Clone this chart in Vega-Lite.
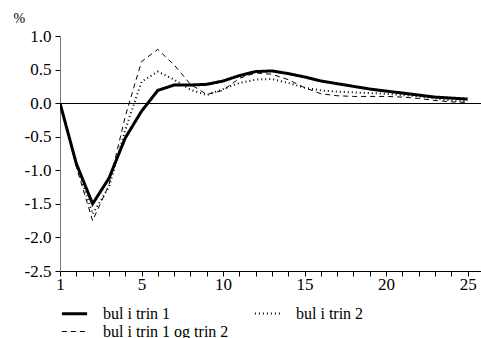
{
  "$schema": "https://vega.github.io/schema/vega-lite/v6.json",
  "autosize": "none",
  "width": 421,
  "height": 235,
  "padding": {"left": 60, "top": 36, "right": 0, "bottom": 67},
  "background": "white",
  "config": {
    "view": {"stroke": null},
    "font": "Liberation Serif, Times New Roman, DejaVu Serif, serif",
    "legend": {"labelFont": "Liberation Serif, Times New Roman, DejaVu Serif, serif"},
    "axis": {"labelFont": "Liberation Serif, Times New Roman, DejaVu Serif, serif", "titleFont": "Liberation Serif, Times New Roman, DejaVu Serif, serif", "labelColor": "black", "tickColor": "black", "grid": false}
  },
  "data": {"values": [
      {"periode": 0, "serie": "bul i trin 1", "v": 0},
      {"periode": 1, "serie": "bul i trin 1", "v": -0.9},
      {"periode": 2, "serie": "bul i trin 1", "v": -1.5},
      {"periode": 3, "serie": "bul i trin 1", "v": -1.12},
      {"periode": 4, "serie": "bul i trin 1", "v": -0.52},
      {"periode": 5, "serie": "bul i trin 1", "v": -0.12},
      {"periode": 6, "serie": "bul i trin 1", "v": 0.19},
      {"periode": 7, "serie": "bul i trin 1", "v": 0.27},
      {"periode": 8, "serie": "bul i trin 1", "v": 0.27},
      {"periode": 9, "serie": "bul i trin 1", "v": 0.28},
      {"periode": 10, "serie": "bul i trin 1", "v": 0.33},
      {"periode": 11, "serie": "bul i trin 1", "v": 0.41},
      {"periode": 12, "serie": "bul i trin 1", "v": 0.47},
      {"periode": 13, "serie": "bul i trin 1", "v": 0.48},
      {"periode": 14, "serie": "bul i trin 1", "v": 0.44},
      {"periode": 15, "serie": "bul i trin 1", "v": 0.39},
      {"periode": 16, "serie": "bul i trin 1", "v": 0.33},
      {"periode": 17, "serie": "bul i trin 1", "v": 0.29},
      {"periode": 18, "serie": "bul i trin 1", "v": 0.25},
      {"periode": 19, "serie": "bul i trin 1", "v": 0.21},
      {"periode": 20, "serie": "bul i trin 1", "v": 0.18},
      {"periode": 21, "serie": "bul i trin 1", "v": 0.15},
      {"periode": 22, "serie": "bul i trin 1", "v": 0.12},
      {"periode": 23, "serie": "bul i trin 1", "v": 0.09},
      {"periode": 24, "serie": "bul i trin 1", "v": 0.075},
      {"periode": 25, "serie": "bul i trin 1", "v": 0.06},
      {"periode": 0, "serie": "bul i trin 2", "v": 0},
      {"periode": 1, "serie": "bul i trin 2", "v": -0.9},
      {"periode": 2, "serie": "bul i trin 2", "v": -1.65},
      {"periode": 3, "serie": "bul i trin 2", "v": -1.25},
      {"periode": 4, "serie": "bul i trin 2", "v": -0.4},
      {"periode": 5, "serie": "bul i trin 2", "v": 0.32},
      {"periode": 6, "serie": "bul i trin 2", "v": 0.47},
      {"periode": 7, "serie": "bul i trin 2", "v": 0.35},
      {"periode": 8, "serie": "bul i trin 2", "v": 0.2},
      {"periode": 9, "serie": "bul i trin 2", "v": 0.12},
      {"periode": 10, "serie": "bul i trin 2", "v": 0.21},
      {"periode": 11, "serie": "bul i trin 2", "v": 0.3},
      {"periode": 12, "serie": "bul i trin 2", "v": 0.35},
      {"periode": 13, "serie": "bul i trin 2", "v": 0.36},
      {"periode": 14, "serie": "bul i trin 2", "v": 0.3},
      {"periode": 15, "serie": "bul i trin 2", "v": 0.23},
      {"periode": 16, "serie": "bul i trin 2", "v": 0.19},
      {"periode": 17, "serie": "bul i trin 2", "v": 0.17},
      {"periode": 18, "serie": "bul i trin 2", "v": 0.16},
      {"periode": 19, "serie": "bul i trin 2", "v": 0.15},
      {"periode": 20, "serie": "bul i trin 2", "v": 0.14},
      {"periode": 21, "serie": "bul i trin 2", "v": 0.12},
      {"periode": 22, "serie": "bul i trin 2", "v": 0.1},
      {"periode": 23, "serie": "bul i trin 2", "v": 0.07},
      {"periode": 24, "serie": "bul i trin 2", "v": 0.04},
      {"periode": 25, "serie": "bul i trin 2", "v": 0.03},
      {"periode": 0, "serie": "bul i trin 1 og trin 2", "v": 0},
      {"periode": 1, "serie": "bul i trin 1 og trin 2", "v": -0.95},
      {"periode": 2, "serie": "bul i trin 1 og trin 2", "v": -1.75},
      {"periode": 3, "serie": "bul i trin 1 og trin 2", "v": -1.22},
      {"periode": 4, "serie": "bul i trin 1 og trin 2", "v": -0.2},
      {"periode": 5, "serie": "bul i trin 1 og trin 2", "v": 0.62},
      {"periode": 6, "serie": "bul i trin 1 og trin 2", "v": 0.8},
      {"periode": 7, "serie": "bul i trin 1 og trin 2", "v": 0.57},
      {"periode": 8, "serie": "bul i trin 1 og trin 2", "v": 0.28},
      {"periode": 9, "serie": "bul i trin 1 og trin 2", "v": 0.13},
      {"periode": 10, "serie": "bul i trin 1 og trin 2", "v": 0.19},
      {"periode": 11, "serie": "bul i trin 1 og trin 2", "v": 0.37},
      {"periode": 12, "serie": "bul i trin 1 og trin 2", "v": 0.45},
      {"periode": 13, "serie": "bul i trin 1 og trin 2", "v": 0.43},
      {"periode": 14, "serie": "bul i trin 1 og trin 2", "v": 0.35},
      {"periode": 15, "serie": "bul i trin 1 og trin 2", "v": 0.23},
      {"periode": 16, "serie": "bul i trin 1 og trin 2", "v": 0.14},
      {"periode": 17, "serie": "bul i trin 1 og trin 2", "v": 0.11},
      {"periode": 18, "serie": "bul i trin 1 og trin 2", "v": 0.1},
      {"periode": 19, "serie": "bul i trin 1 og trin 2", "v": 0.1},
      {"periode": 20, "serie": "bul i trin 1 og trin 2", "v": 0.1},
      {"periode": 21, "serie": "bul i trin 1 og trin 2", "v": 0.09},
      {"periode": 22, "serie": "bul i trin 1 og trin 2", "v": 0.07},
      {"periode": 23, "serie": "bul i trin 1 og trin 2", "v": 0.04},
      {"periode": 24, "serie": "bul i trin 1 og trin 2", "v": 0.02},
      {"periode": 25, "serie": "bul i trin 1 og trin 2", "v": 0.01}
  ]},
  "mark": {"type": "line", "color": "black", "clip": true},
  "encoding": {
    "x": {
      "field": "periode", "type": "quantitative",
      "scale": {"domain": [0, 25.82], "nice": false, "zero": false},
      "axis": {
        "title": null,
        "values": [0,1,2,3,4,5,6,7,8,9,10,11,12,13,14,15,16,17,18,19,20,21,22,23,24,25],
        "labelExpr": "datum.value == 0 ? '1' : (datum.value % 5 == 0 ? datum.label : '')",
        "labelFont": "Liberation Serif, Times New Roman, DejaVu Serif, serif",
        "labelFontSize": 17,
        "labelPadding": 0,
        "tickSize": 5,
        "domainColor": "black",
        "labelFlush": false,
        "labelOverlap": false
      }
    },
    "y": {
      "field": "v", "type": "quantitative",
      "scale": {"domain": [-2.5, 1.0], "nice": false, "zero": false},
      "axis": {
        "title": "%",
        "titleFont": "Liberation Serif, Times New Roman, DejaVu Serif, serif",
        "titleAngle": 0,
        "titleAlign": "left",
        "titleBaseline": "alphabetic",
        "titleX": -47,
        "titleY": -14,
        "titleFontSize": 14,
        "titleFontWeight": "normal",
        "values": [-2.5, -2, -1.5, -1, -0.5, 0, 0.5, 1],
        "labelExpr": "(datum.value < 0 ? '-' : '') + format(abs(datum.value), '.1f')",
        "labelFont": "Liberation Serif, Times New Roman, DejaVu Serif, serif",
        "labelFontSize": 17,
        "labelPadding": 4,
        "labelOverlap": false,
        "labelFlush": false,
        "tickSize": 5,
        "domainColor": "#777777",
        "grid": true,
        "gridColor": "black",
        "gridWidth": 1,
        "gridOpacity": {"condition": {"test": "datum.value == 0", "value": 1}, "value": 0}
      }
    },
    "detail": {"field": "serie"},
    "strokeDash": {
      "field": "serie", "type": "nominal",
      "scale": {"domain": ["bul i trin 1", "bul i trin 2", "bul i trin 1 og trin 2"], "range": [[1, 0], [1, 3], [5, 4]]},
      "legend": {
        "title": null,
        "orient": "none",
        "direction": "horizontal",
        "legendX": 4,
        "legendY": 267,
        "columns": 2,
        "gridAlign": "each",
        "columnPadding": 21,
        "rowPadding": 0,
        "padding": 0,
        "symbolType": "M-1.4,0H1.4",
        "symbolSize": 324,
        "symbolStrokeColor": "black",
        "symbolFillColor": "transparent",
        "labelFontSize": 16,
        "labelColor": "black",
        "labelOffset": 18,
        "labelLimit": 300
      }
    },
    "strokeWidth": {
      "field": "serie", "type": "nominal",
      "scale": {"domain": ["bul i trin 1", "bul i trin 2", "bul i trin 1 og trin 2"], "range": [3, 1, 1]},
      "legend": null
    }
  }
}
